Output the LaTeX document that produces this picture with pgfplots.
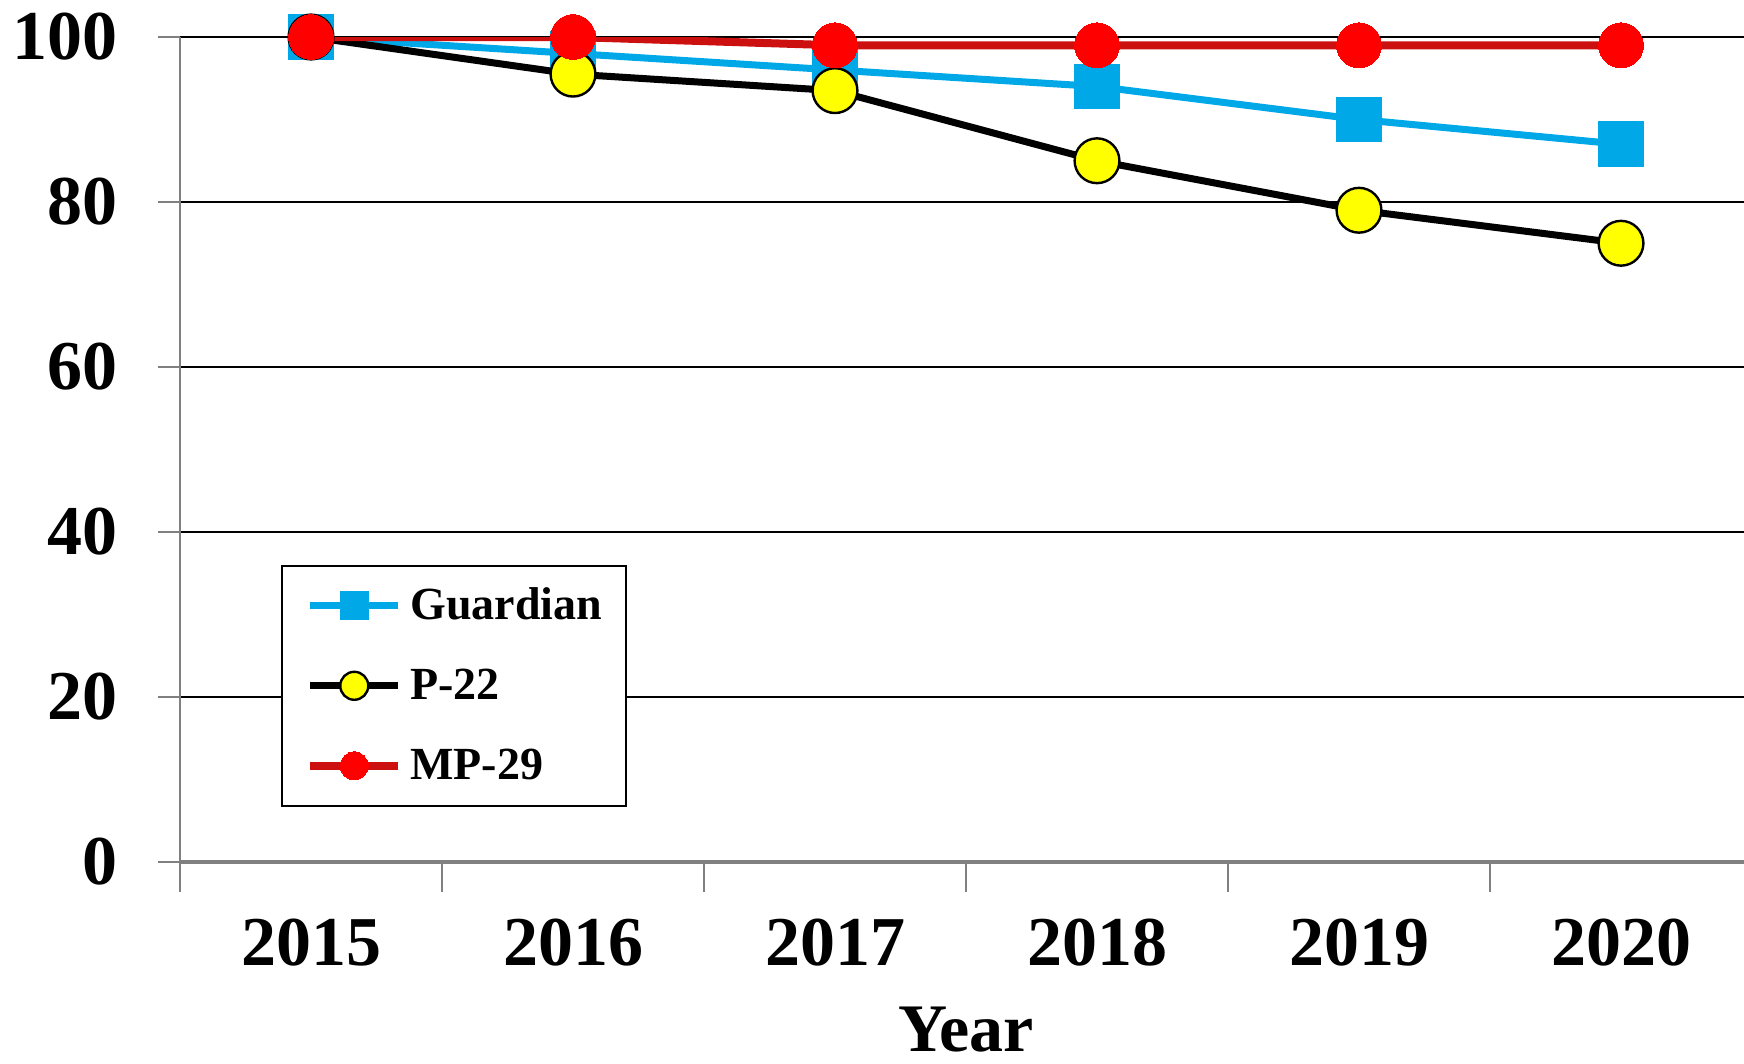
\documentclass[border=0pt]{standalone}
\usepackage{pgfplots}
\pgfplotsset{compat=1.18}
\usepackage{fontspec}
\setmainfont{Liberation Serif}

\definecolor{guardblue}{RGB}{0,168,232}
\definecolor{mpline}{RGB}{204,16,16}
\definecolor{mpmark}{RGB}{255,0,0}
\definecolor{pyellow}{RGB}{255,255,0}

\begin{document}
\begin{tikzpicture}
\useasboundingbox (-45pt,-50.25pt) rectangle (391pt,215.5pt);
\begin{axis}[
  at={(0,0)}, anchor=south west,
  scale only axis, width=393pt, height=206.25pt,
  xmin=-0.5, xmax=5.5, ymin=0, ymax=100,
  xtick={0,1,2,3,4,5},
  xticklabels={2015,2016,2017,2018,2019,2020},
  minor xtick={-0.5,0.5,1.5,2.5,3.5,4.5,5.5},
  ytick={0,20,40,60,80,100},
  tick align=outside,
  major tick length=5.5pt, minor tick length=7.5pt,
  major x tick style={draw=none},
  minor x tick style={draw=gray, line width=0.5pt},
  ytick style={draw=gray, line width=0.5pt},
  ymajorgrids,
  major grid style={black, line width=0.5pt},
  axis x line*=bottom, axis y line*=left,
  x axis line style={-, gray, line width=0.8pt},
  y axis line style={-, gray, line width=0.5pt},
  /pgf/number format/assume math mode=true,
  xticklabel style={font=\fontsize{17.5}{20}\selectfont\bfseries, inner sep=0pt},
  yticklabel style={font=\fontsize{17.5}{20}\selectfont\bfseries, inner sep=0pt},
  xticklabel shift=8.5pt,
  yticklabel shift=10pt,
  xlabel={Year},
  every axis x label/.style={at={(axis description cs:0.5,0)}, anchor=north,
    yshift=-36pt, inner sep=0pt, font=\fontsize{17}{20}\selectfont\bfseries},
  legend cell align=left,
  legend style={at={(0.0643,0.0667)}, anchor=south west, draw=black,
    line width=0.6pt, inner xsep=6pt, inner ysep=4.5pt, row sep=9pt,
    font=\fontsize{11.5}{14}\selectfont\bfseries,
    nodes={inner sep=0pt, text height=9pt, text depth=2pt}},
  /tikz/every odd column/.append style={column sep=2pt},
  legend image code/.code={
    \draw[#1, mark=none] (0pt,0pt) -- (22pt,0pt);
    \draw[#1, mark size=3.5pt] plot coordinates {(11pt,0pt)};
  },
]
% Guardian
\addplot[guardblue, line width=1.75pt, mark=square*, mark size=5.6pt,
  mark options={fill=guardblue, draw=guardblue, line width=0pt}]
  coordinates {(0,100) (1,98) (2,96) (3,94) (4,90) (5,87)};
\addlegendentry{Guardian}
% P-22
\addplot[black, line width=1.75pt, mark=*, mark size=5.6pt,
  mark options={fill=pyellow, draw=black, line width=0.6pt}]
  coordinates {(0,100) (1,95.5) (2,93.5) (3,85) (4,79) (5,75)};
\addlegendentry{P-22}
% MP-29
\addplot[mpline, line width=2pt, mark=*, mark size=5.6pt,
  mark options={fill=mpmark, draw=mpmark, line width=0pt}]
  coordinates {(0,100) (1,100) (2,99) (3,99) (4,99) (5,99)};
\addlegendentry{MP-29}
\end{axis}
\end{tikzpicture}
\end{document}
